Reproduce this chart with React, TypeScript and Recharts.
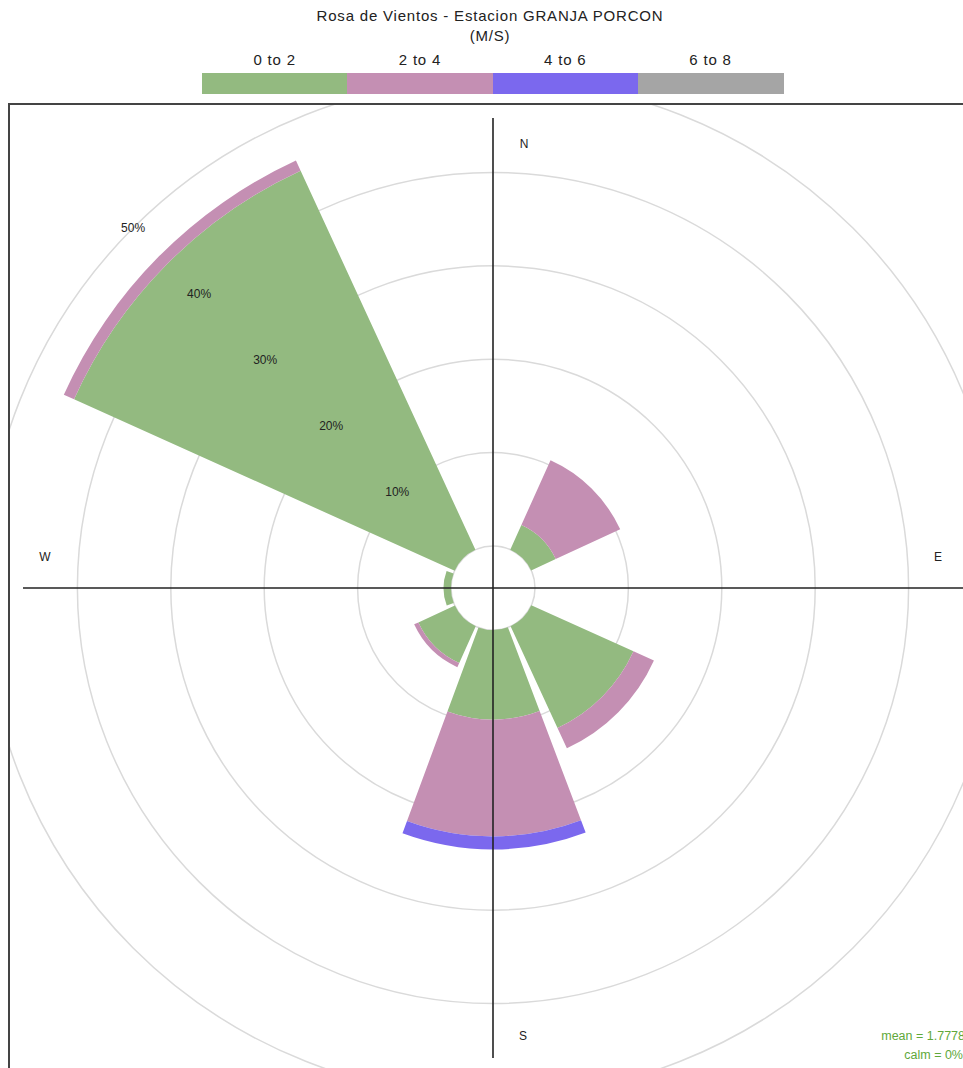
import React from 'react';
import {
  RadialBarChart,
  RadialBar,
  PolarAngleAxis,
  PolarRadiusAxis,
  PolarGrid,
} from 'recharts';

// ---- data (percent of time per direction sector and speed bin) ----
const directions = ['N', 'NE', 'E', 'SE', 'S', 'SW', 'W', 'NW'];
const speed0to2 = [0, 2.9, 0, 12.0, 9.6, 4.3, 0.8, 44.7];
const speed2to4 = [0, 7.6, 0, 2.4, 12.5, 0.5, 0, 1.2];
const speed4to6 = [0, 0, 0, 0, 1.4, 0, 0, 0];
const speed6to8 = [0, 0, 0, 0, 0, 0, 0, 0];

const binLabels = ['0 to 2', '2 to 4', '4 to 6', '6 to 8'];
const binKeys = ['b0', 'b1', 'b2', 'b3'];
const binColors = ['#93BA80', '#C48FB3', '#7B68EE', '#A5A5A5'];
const radiusTicks = [0, 10, 20, 30, 40, 50];
const compassLabels = ['N', 'E', 'S', 'W'];

const titleText = 'Rosa de Vientos - Estacion GRANJA PORCON';
const unitText = '(M/S)';
const meanText = 'mean = 1.7778';
const calmText = 'calm = 0%';

const data = directions.map((dir, i) => ({
  dir,
  b0: speed0to2[i],
  b1: speed2to4[i],
  b2: speed4to6[i],
  b3: speed6to8[i],
}));

// ---- layout ----
const FONT = "'Liberation Sans', Arial, Helvetica, sans-serif";
const PANEL_LEFT = 8;
const PANEL_TOP = 103;
const BORDER = 2;
const CHART_W = 963 - PANEL_LEFT - BORDER;
const CHART_H = 1068 - PANEL_TOP - BORDER;
const CX = 493 - PANEL_LEFT - BORDER;
const CY = 588 - PANEL_TOP - BORDER;
const INNER_R = 42;
const OUTER_R = 509;
const AXIS_LEN = 470;

const compassOffsets: Record<string, [number, number]> = {
  N: [31, -444],
  E: [445, -31],
  S: [30, 448],
  W: [-448, -31],
};

const renderRadiusTick = (props: any) => {
  const { x, y, payload } = props;
  if (!payload || payload.value === 0) return <g />;
  return (
    <text
      x={x}
      y={y}
      textAnchor="middle"
      dominantBaseline="central"
      fontSize={12}
      fontFamily={FONT}
      fill="#222"
    >
      {`${payload.value}%`}
    </text>
  );
};

export default function App() {
  const legendLeft = 202;
  const segW = 145.3;
  const headerStyle: React.CSSProperties = {
    position: 'absolute',
    textAlign: 'center',
    fontSize: 15,
    letterSpacing: 0.8,
    color: '#222',
    lineHeight: '17px',
  };
  return (
    <div
      style={{
        position: 'absolute',
        left: 0,
        top: 0,
        width: 963,
        height: 1068,
        overflow: 'hidden',
        background: '#fff',
        fontFamily: FONT,
      }}
    >
      {/* title */}
      <div style={{ ...headerStyle, left: 0, width: 980, top: 7 }}>{titleText}</div>
      <div style={{ ...headerStyle, left: 0, width: 980, top: 27 }}>{unitText}</div>
      {/* legend */}
      {binLabels.map((lab, i) => (
        <React.Fragment key={lab}>
          <div style={{ ...headerStyle, left: legendLeft + i * segW, width: segW, top: 51 }}>
            {lab}
          </div>
          <div
            style={{
              position: 'absolute',
              left: legendLeft + i * segW,
              width: segW + 0.5,
              top: 73,
              height: 21,
              background: binColors[i],
            }}
          />
        </React.Fragment>
      ))}
      {/* panel */}
      <div
        style={{
          position: 'absolute',
          left: PANEL_LEFT,
          top: PANEL_TOP,
          width: CHART_W,
          height: CHART_H,
          borderTop: `${BORDER}px solid #444`,
          borderLeft: `${BORDER}px solid #444`,
          overflow: 'hidden',
        }}
      >
        <div style={{ position: 'absolute', left: 0, top: 0 }}>
          <RadialBarChart
            width={CHART_W}
            height={CHART_H}
            cx={CX}
            cy={CY}
            innerRadius={INNER_R}
            outerRadius={OUTER_R}
            startAngle={67.5}
            endAngle={-292.5}
            layout="centric"
            data={data}
            barCategoryGap="5%"
            margin={{ top: 0, right: 0, bottom: 0, left: 0 }}
          >
            <PolarGrid
              gridType="circle"
              radialLines={false}
              stroke="#dadada"
              strokeWidth={1.5}
            />
            <PolarAngleAxis
              type="category"
              dataKey="dir"
              tick={false}
              axisLine={false}
              tickLine={false}
            />
            {binKeys.map((k, i) => (
              <RadialBar
                key={k}
                dataKey={k}
                stackId="wind"
                fill={binColors[i]}
                isAnimationActive={false}
              />
            ))}
            <PolarRadiusAxis
              type="number"
              domain={[0, 50]}
              ticks={radiusTicks}
              angle={135}
              axisLine={false}
              tickLine={false}
              tick={renderRadiusTick}
            />
          </RadialBarChart>
        </div>
        {/* compass cross and labels drawn on top of the rose */}
        <svg
          width={CHART_W}
          height={CHART_H}
          style={{ position: 'absolute', left: 0, top: 0, pointerEvents: 'none' }}
        >
          <line x1={CX} y1={CY - AXIS_LEN} x2={CX} y2={CY + AXIS_LEN} stroke="#222" strokeWidth={1.6} />
          <line x1={CX - AXIS_LEN} y1={CY} x2={CX + AXIS_LEN} y2={CY} stroke="#222" strokeWidth={1.6} />
          {compassLabels.map((c) => (
            <text
              key={c}
              x={CX + compassOffsets[c][0]}
              y={CY + compassOffsets[c][1]}
              textAnchor="middle"
              dominantBaseline="central"
              fontSize={12}
              fontFamily={FONT}
              fill="#222"
            >
              {c}
            </text>
          ))}
          <text x={CHART_W + 2} y={CY + 452} textAnchor="end" fontSize={12.5} fontFamily={FONT} fill="#5FA83A">
            {meanText}
          </text>
          <text x={CHART_W} y={CY + 471} textAnchor="end" fontSize={12.5} fontFamily={FONT} fill="#5FA83A">
            {calmText}
          </text>
        </svg>
      </div>
    </div>
  );
}
